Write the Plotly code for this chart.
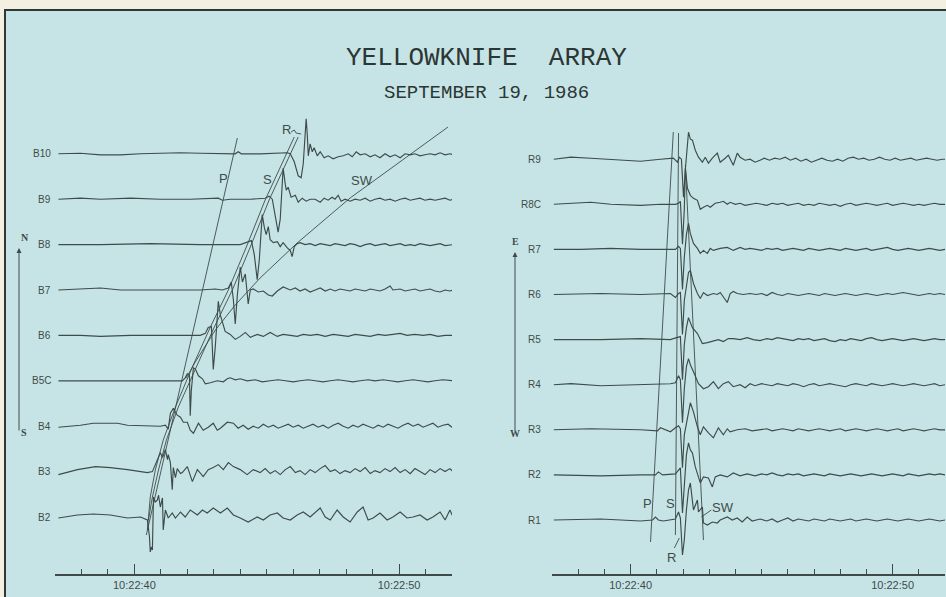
import plotly.graph_objects as go

# ---------------------------------------------------------------- data
LEFT_STATIONS = ["B2", "B3", "B4", "B5C", "B6", "B7", "B8", "B9", "B10"]
RIGHT_STATIONS = ["R1", "R2", "R3", "R4", "R5", "R6", "R7", "R8C", "R9"]
TICK_VALUES = [40, 50]
TICK_LABELS = ["10:22:40", "10:22:50"]
MINOR_TICKS = [38, 39, 41, 42, 43, 44, 45, 46, 47, 48, 49, 51, 52]

# time (s after 10:22:00) and trace deflection (up positive)
B10_T = [37.13, 37.96, 38.72, 39.47, 40.23, 40.98, 41.74, 42.49, 43.25, 43.81, 43.92, 44.04, 44.75, 45.51, 45.77, 45.89, 46.04, 46.19, 46.30, 46.38, 46.45, 46.49, 46.53, 46.57, 46.64, 46.72, 46.79, 46.91, 47.02, 47.17, 47.32, 47.51, 47.70, 47.89, 48.08, 48.23, 48.38, 48.53, 48.72, 48.91, 49.09, 49.28, 49.47, 49.66, 49.85, 50.04, 50.23, 50.42, 50.60, 50.79, 50.98, 51.17, 51.36, 51.55, 51.74, 51.92, 52.04]
B10_A = [0, 0.5, -1, -1, 0, 0.5, 1, 0.5, 0, 0, 2, 0, 0, 0.5, 1, 0, -8, -22, -24, -10, 20, 35, 20, -2, 10, 2, 6, -2, 2, -4, -2, -5, -3, -2, 0, -3, 2, -1, 0, -3, -1, -4, 0, -3, -1, -4, 0, -1, 0, -2, -1, 0, -1, 1, -1, 0, -1]

B9_T = [37.13, 37.96, 38.72, 39.85, 40.98, 42.11, 43.17, 43.32, 43.62, 44.38, 44.94, 45.09, 45.21, 45.32, 45.43, 45.51, 45.58, 45.62, 45.70, 45.74, 45.81, 45.92, 46.08, 46.19, 46.34, 46.49, 46.64, 46.83, 47.02, 47.17, 47.32, 47.47, 47.58, 47.70, 47.81, 47.96, 48.15, 48.34, 48.53, 48.72, 48.91, 49.09, 49.28, 49.47, 49.66, 49.85, 50.04, 50.23, 50.42, 50.60, 50.79, 50.98, 51.17, 51.36, 51.55, 51.74, 51.92, 52.04]
B9_A = [0, 1, 0, 1, 0, 0, 1, -1, 0, 0, 1, 3, 0, -15, -33, -20, 10, 31, 15, 9, 12, 2, 4, -3, 1, -2, 0, 0, -3, 1, -1, 2, 0, 4, -2, 0, -2, 0, -1, 1, -2, 0, 1, -1, 0, -2, 0, 1, -1, 0, 1, -1, 0, -1, 0, 1, -1, 0]

B8_T = [37.13, 38.72, 40.60, 42.49, 44.00, 44.26, 44.42, 44.53, 44.64, 44.72, 44.79, 44.83, 44.91, 44.98, 45.06, 45.13, 45.25, 45.40, 45.51, 45.62, 45.77, 45.89, 45.96, 46.04, 46.15, 46.26, 46.45, 46.64, 46.83, 47.02, 47.21, 47.40, 47.58, 47.77, 47.96, 48.15, 48.34, 48.53, 48.72, 48.91, 49.09, 49.28, 49.47, 49.66, 49.85, 50.04, 50.23, 50.42, 50.60, 50.79, 50.98, 51.17, 51.36, 51.55, 51.74, 51.92, 52.04]
B8_A = [0, 0, 1, 0, 0, 2, 4, -10, -35, -15, 15, 30, 17, 10, 18, 5, 2, 3, -2, 2, -3, -6, -12, -2, 1, 2, 0, 1, -1, 1, 0, -1, 1, 0, -1, 1, 0, -2, 0, 1, -1, 0, 1, -1, 0, 1, -1, 0, -1, 1, 0, -1, 0, 1, -1, 0, 0]

B7_T = [37.13, 37.96, 38.72, 39.47, 40.98, 42.49, 43.06, 43.32, 43.55, 43.66, 43.74, 43.81, 43.89, 43.96, 44.00, 44.08, 44.19, 44.30, 44.38, 44.49, 44.68, 44.87, 45.06, 45.21, 45.40, 45.62, 45.89, 46.08, 46.26, 46.45, 46.64, 46.83, 47.02, 47.21, 47.40, 47.58, 47.77, 47.96, 48.15, 48.34, 48.53, 48.72, 48.91, 49.09, 49.28, 49.47, 49.66, 49.77, 50.04, 50.23, 50.42, 50.60, 50.79, 50.98, 51.17, 51.36, 51.55, 51.74, 51.92, 52.04]
B7_A = [0, 1, 2, 0, 0, 0, 1, 0, 2, 8, -10, -34, -5, 15, 23, 8, 16, -14, 0, 1, -2, -1, -5, -6, -1, 3, 0, 2, -1, 1, -2, 0, 2, -1, 1, -1, 1, 0, -1, 1, 0, -1, 1, 0, -1, 1, 4, 0, 1, -1, 0, 1, -1, 0, 1, -1, -2, 0, -1, 0]

B6_T = [37.13, 37.96, 38.72, 39.85, 41.36, 42.49, 42.68, 42.79, 42.91, 42.98, 43.06, 43.17, 43.25, 43.32, 43.43, 43.62, 43.81, 44.00, 44.19, 44.38, 44.64, 44.87, 45.13, 45.40, 45.62, 45.89, 46.15, 46.38, 46.64, 46.91, 47.21, 47.51, 47.77, 48.08, 48.34, 48.64, 48.91, 49.21, 49.47, 49.77, 50.04, 50.30, 50.60, 50.91, 51.17, 51.47, 51.74, 52.04]
B6_A = [0, 0, -1, 0, 0, 0, 2, 8, 9, -34, -10, 34, 20, 13, 4, 1, -4, -1, 3, -2, 1, -1, 3, -1, 1, 0, -1, 1, 0, 1, -1, 1, 0, -1, 1, 0, -1, 1, 0, 1, 2, 0, 1, 0, 1, -1, 0, 0]

B5C_T = [37.13, 38.72, 40.23, 41.81, 41.92, 42.00, 42.08, 42.11, 42.15, 42.23, 42.30, 42.42, 42.57, 42.68, 42.87, 43.13, 43.36, 43.51, 43.62, 43.81, 44.00, 44.26, 44.57, 44.83, 45.13, 45.43, 45.70, 46.00, 46.26, 46.57, 46.83, 47.13, 47.40, 47.70, 47.96, 48.26, 48.53, 48.83, 49.09, 49.40, 49.66, 49.96, 50.23, 50.53, 50.79, 51.09, 51.36, 51.66, 52.04]
B5C_A = [0, 0, 0, 0, 3, 7, 6, -35, -10, 13, 12, 5, 2, -3, -2, 0, -1, 2, 3, 1, 2, 0, 1, -1, 0, 1, 0, -1, 0, 1, 0, -1, 0, 1, 0, -1, 0, 1, 0, 1, 0, -1, 0, 1, 0, -1, 0, 1, 0]

B4_T = [37.13, 37.96, 38.45, 39.36, 39.74, 40.98, 41.17, 41.28, 41.36, 41.47, 41.55, 41.62, 41.74, 41.85, 42.00, 42.11, 42.23, 42.42, 42.60, 42.79, 42.98, 43.13, 43.25, 43.51, 43.74, 43.92, 44.11, 44.30, 44.49, 44.68, 44.87, 45.06, 45.25, 45.43, 45.62, 45.81, 46.00, 46.19, 46.38, 46.57, 46.75, 46.94, 47.13, 47.32, 47.51, 47.70, 47.89, 48.08, 48.26, 48.45, 48.64, 48.83, 49.02, 49.21, 49.40, 49.58, 49.77, 49.96, 50.15, 50.34, 50.53, 50.72, 50.91, 51.09, 51.28, 51.47, 51.66, 51.85, 52.04]
B4_A = [-1, 1, 3, 3, 1, 0, 1, -3, 13, 18, 14, 11, 9, 4, 4, -4, -7, 3, -4, -1, 3, -4, -2, 4, 3, -2, 1, -3, 0, -2, 2, -1, 1, -2, 0, 2, -1, 1, -2, 0, 2, -1, 1, -2, 1, 3, 0, -2, 1, -1, 2, 0, -2, 1, -1, 2, 0, -2, 1, 3, 0, 2, -1, 1, 3, -1, 1, 2, -2]

B3_T = [37.13, 37.85, 38.53, 39.09, 39.74, 40.49, 40.68, 40.79, 40.87, 40.98, 41.06, 41.09, 41.17, 41.25, 41.28, 41.36, 41.43, 41.47, 41.55, 41.62, 41.74, 41.81, 42.00, 42.19, 42.38, 42.60, 42.79, 42.98, 43.17, 43.36, 43.55, 43.74, 44.00, 44.26, 44.49, 44.75, 44.94, 45.13, 45.32, 45.51, 45.70, 45.89, 46.08, 46.26, 46.45, 46.64, 46.83, 47.02, 47.21, 47.40, 47.58, 47.77, 47.96, 48.15, 48.34, 48.53, 48.72, 48.91, 49.09, 49.28, 49.47, 49.66, 49.85, 50.04, 50.23, 50.42, 50.60, 50.79, 50.98, 51.17, 51.36, 51.55, 51.74, 51.92, 52.04]
B3_A = [-3, 2, 5, 4, 2, -1, 0, 6, 12, 19, 14, 16, 22, 12, 17, 9, -18, 4, -6, 3, -2, -1, 5, -10, 2, -5, 2, 4, 7, 2, 9, 5, 2, -3, 2, -1, 3, -2, 1, -3, 2, 5, -1, 1, -3, 2, -1, 3, 6, 0, 2, -2, 1, -1, 3, 0, 4, -2, 1, -1, 3, 0, 4, -1, 2, -2, 3, 0, -3, 2, -1, 3, 0, 3, 0]

B2_T = [37.13, 37.85, 38.45, 39.09, 39.74, 40.23, 40.49, 40.57, 40.60, 40.64, 40.68, 40.72, 40.79, 40.87, 40.91, 40.98, 41.06, 41.09, 41.17, 41.28, 41.43, 41.55, 41.74, 41.92, 42.11, 42.38, 42.57, 42.75, 42.98, 43.25, 43.51, 43.74, 44.00, 44.30, 44.64, 44.87, 45.13, 45.40, 45.62, 45.89, 46.15, 46.38, 46.64, 47.02, 47.21, 47.40, 47.66, 47.89, 48.15, 48.42, 48.64, 48.83, 49.02, 49.28, 49.55, 49.77, 50.04, 50.30, 50.53, 50.79, 51.06, 51.28, 51.55, 51.74, 51.92, 52.04]
B2_A = [-1, 2, 3, 2, -1, 0, -3, -20, -35, -30, -33, 20, 15, 17, 22, 10, 19, -13, 7, -1, 4, -1, 5, 0, 7, 2, 7, 4, 9, 4, 9, 2, -1, -5, 0, -3, 2, 4, -1, -3, 2, 5, 0, 9, 0, -3, 7, 0, -5, 5, 10, -3, -1, 4, -3, 0, 5, -1, 0, 2, -3, 0, 5, -3, 7, 0]

R9_T = [37.07, 37.72, 38.48, 39.24, 40.38, 41.14, 41.63, 41.79, 41.86, 41.94, 42.02, 42.09, 42.17, 42.21, 42.28, 42.36, 42.47, 42.59, 42.74, 42.85, 42.97, 43.12, 43.31, 43.42, 43.61, 43.73, 43.92, 44.07, 44.18, 44.37, 44.56, 44.75, 44.94, 45.1, 45.3, 45.5, 45.7, 45.9, 46.1, 46.3, 46.5, 46.7, 46.9, 47.1, 47.3, 47.5, 47.7, 47.9, 48.1, 48.3, 48.5, 48.7, 48.9, 49.1, 49.3, 49.5, 49.7, 49.9, 50.1, 50.3, 50.5, 50.7, 50.9, 51.1, 51.3, 51.5, 51.7, 51.9, 52.0]
R9_A = [0, 2, 1, 0, -2, 0, 1, -3, 2, 0, -38, -10, 20, 27, 20, 19, 9, 2, -3, 2, -4, 1, 6, -3, 1, 4, -6, 6, 2, -1, 0, -3, -1, 1, -1, 1, 0, 2, -1, 1, -2, 0, -3, -1, 1, -1, -2, 0, -2, 1, 2, 0, 1, -1, 0, 2, 0, -1, 1, -1, 0, 1, -1, 0, 1, 0, -1, 0, 0]

R8C_T = [37.07, 37.72, 38.48, 39.24, 40.38, 41.14, 41.71, 41.83, 41.90, 41.98, 42.05, 42.09, 42.17, 42.28, 42.40, 42.55, 42.66, 42.78, 42.93, 43.04, 43.23, 43.42, 43.54, 43.69, 43.80, 44.00, 44.18, 44.37, 44.56, 44.8, 45.0, 45.2, 45.4, 45.6, 45.8, 46.0, 46.2, 46.4, 46.6, 46.8, 47.0, 47.2, 47.4, 47.6, 47.8, 48.0, 48.2, 48.4, 48.6, 48.8, 49.0, 49.2, 49.4, 49.6, 49.8, 50.0, 50.2, 50.4, 50.6, 50.8, 51.0, 51.2, 51.4, 51.6, 51.8, 52.0]
R8C_A = [0, 1, 2, 0, -1, 0, 0, 1, 3, -40, -5, 36, 16, 9, 6, 4, -5, -3, -1, -3, 1, 2, 3, 0, 2, 0, 1, -1, 0, 1, 0, -1, 1, 0, 1, -1, 0, 1, -1, 0, -1, 1, 0, -1, 0, -2, 0, 1, -1, 0, 1, 0, -1, 0, 1, -1, 0, 1, 0, -1, 0, -1, 0, 1, 0, 0]

R7_T = [37.07, 38.10, 39.24, 40.38, 41.33, 41.71, 41.83, 41.90, 41.98, 42.05, 42.13, 42.21, 42.28, 42.40, 42.55, 42.66, 42.78, 42.93, 43.04, 43.16, 43.42, 43.69, 43.92, 44.18, 44.37, 44.56, 44.8, 45.0, 45.2, 45.4, 45.6, 45.8, 46.0, 46.2, 46.4, 46.6, 46.8, 47.0, 47.2, 47.4, 47.6, 47.8, 48.0, 48.2, 48.4, 48.6, 48.8, 49.0, 49.2, 49.4, 49.6, 49.8, 50.0, 50.2, 50.4, 50.6, 50.8, 51.0, 51.2, 51.4, 51.6, 51.8, 52.0]
R7_A = [0, 0, 1, 0, 0, 0, 3, 1, -40, -8, 15, 26, 16, 6, 1, -4, -1, -4, 1, -1, 1, 2, -1, 2, 0, 1, 0, -1, 1, 0, 1, -1, 0, 1, 0, -1, 1, 0, -1, 0, 1, 0, -1, 1, 0, -1, 0, 1, -1, 0, 1, 2, 0, -1, 0, 1, 0, -1, 0, 1, 0, -1, 0]

R6_T = [37.07, 38.86, 40.38, 41.52, 41.71, 41.83, 41.90, 41.98, 42.05, 42.13, 42.21, 42.28, 42.40, 42.55, 42.66, 42.78, 42.93, 43.16, 43.31, 43.42, 43.69, 43.80, 43.92, 44.07, 44.30, 44.56, 44.8, 45.0, 45.2, 45.4, 45.6, 45.8, 46.0, 46.2, 46.4, 46.6, 46.8, 47.0, 47.2, 47.4, 47.6, 47.8, 48.0, 48.2, 48.4, 48.6, 48.8, 49.0, 49.2, 49.4, 49.6, 49.8, 50.0, 50.2, 50.4, 50.6, 50.8, 51.0, 51.2, 51.4, 51.6, 51.8, 52.0]
R6_A = [0, 1, 0, 1, -3, 1, 2, -40, -6, 10, 22, 24, 11, 1, -4, 2, -1, 1, 0, 2, -8, 1, 3, 1, 0, 1, 0, 1, -1, 2, 0, -1, 1, 0, -1, 0, 1, 0, -1, 1, 0, -1, 0, 1, 0, -1, 0, 1, 0, -1, 0, 1, 0, 1, 2, 1, 0, -1, 0, 1, 0, 1, 0]

R5_T = [37.07, 38.86, 40.38, 41.52, 41.63, 41.83, 41.90, 41.98, 42.05, 42.13, 42.21, 42.28, 42.36, 42.55, 42.74, 42.93, 43.16, 43.35, 43.54, 43.73, 43.92, 44.18, 44.45, 44.68, 44.94, 45.2, 45.4, 45.6, 45.8, 46.0, 46.2, 46.4, 46.6, 46.8, 47.0, 47.2, 47.4, 47.6, 47.8, 48.0, 48.2, 48.4, 48.6, 48.8, 49.0, 49.2, 49.4, 49.6, 49.8, 50.0, 50.2, 50.4, 50.6, 50.8, 51.0, 51.2, 51.4, 51.6, 51.8, 52.0]
R5_A = [0, 0, 1, 0, 1, 2, 3, -40, -5, 12, 22, 17, 12, 6, -4, -3, -1, 0, -2, 1, 1, 0, 2, 0, -1, 1, 0, 2, 1, 0, -1, 1, 0, 1, -1, 0, 1, -1, -2, 0, -1, 1, 0, -1, 1, 2, 0, -1, 0, 1, 0, -1, 0, 1, 0, -1, 0, 1, 0, 0]

R4_T = [37.07, 37.72, 38.86, 40.38, 41.52, 41.71, 41.83, 41.90, 41.98, 42.05, 42.13, 42.21, 42.28, 42.40, 42.59, 42.78, 42.97, 43.16, 43.35, 43.54, 43.73, 43.92, 44.18, 44.37, 44.56, 44.75, 45.0, 45.2, 45.4, 45.6, 45.8, 46.0, 46.2, 46.4, 46.6, 46.8, 47.0, 47.2, 47.4, 47.6, 47.8, 48.0, 48.2, 48.4, 48.6, 48.8, 49.0, 49.2, 49.4, 49.6, 49.8, 50.0, 50.2, 50.4, 50.6, 50.8, 51.0, 51.2, 51.4, 51.6, 51.8, 52.0]
R4_A = [0, 1, -1, 0, 1, 2, 9, 5, -38, -4, 18, 26, 20, 13, 1, -4, -2, 3, -4, 1, 3, -2, 0, -3, 1, -1, 1, 0, -1, 1, 0, -1, 1, 0, -2, 0, 1, -1, 0, 1, 0, -1, -2, 0, 1, 0, -1, 1, 0, -1, 0, 1, 0, -1, 0, 1, 0, -1, 0, 1, -1, 0]

R3_T = [37.07, 38.48, 40.38, 41.03, 41.14, 41.33, 41.52, 41.71, 41.83, 41.90, 41.98, 42.05, 42.17, 42.28, 42.40, 42.55, 42.66, 42.78, 42.97, 43.16, 43.35, 43.54, 43.69, 43.80, 44.07, 44.37, 44.64, 44.94, 45.2, 45.4, 45.6, 45.8, 46.0, 46.2, 46.4, 46.6, 46.8, 47.0, 47.2, 47.4, 47.6, 47.8, 48.0, 48.2, 48.4, 48.6, 48.8, 49.0, 49.2, 49.4, 49.6, 49.8, 50.0, 50.2, 50.4, 50.6, 50.8, 51.0, 51.2, 51.4, 51.6, 51.8, 52.0]
R3_A = [0, 1, 0, -1, 2, 0, -2, 2, 4, 1, -38, -5, 14, 27, 18, 3, -5, 3, -3, -8, 2, -5, 1, -2, 0, 1, -1, 0, 1, -1, 0, 1, 0, -1, 1, 0, -1, 0, 1, 0, -1, 0, 1, -1, 0, 1, 0, -1, 0, 1, 0, -1, 0, 1, -1, 0, 1, 0, -1, 0, 1, 0, 0]

R2_T = [37.07, 38.86, 40.38, 40.95, 41.06, 41.22, 41.71, 41.90, 41.98, 42.05, 42.13, 42.21, 42.28, 42.36, 42.47, 42.66, 42.78, 42.97, 43.12, 43.23, 43.42, 43.69, 43.92, 44.18, 44.45, 44.75, 45.0, 45.2, 45.4, 45.6, 45.8, 46.0, 46.2, 46.4, 46.6, 46.8, 47.0, 47.2, 47.4, 47.6, 47.8, 48.0, 48.2, 48.4, 48.6, 48.8, 49.0, 49.2, 49.4, 49.6, 49.8, 50.0, 50.2, 50.4, 50.6, 50.8, 51.0, 51.2, 51.4, 51.6, 51.8, 52.0]
R2_A = [0, -1, 0, 0, 3, 0, 1, 7, -38, -8, 20, 32, 25, 22, 8, -8, -2, -3, -12, -2, 0, -2, 2, -1, 1, -1, 1, 0, 2, 0, -1, 1, 0, 1, -1, 0, 1, 0, -1, 1, 0, -1, 0, 1, 0, -1, 0, 1, 0, -1, 0, 1, 0, -1, 1, 0, -1, 0, 1, 0, 1, 0]

R1_T = [37.07, 38.86, 40.38, 40.84, 40.95, 41.06, 41.25, 41.71, 41.83, 41.90, 41.98, 42.05, 42.13, 42.21, 42.28, 42.36, 42.40, 42.55, 42.59, 42.74, 42.78, 42.93, 43.12, 43.31, 43.42, 43.69, 43.88, 44.07, 44.26, 44.45, 44.64, 44.94, 45.2, 45.4, 45.6, 45.8, 46.0, 46.2, 46.4, 46.6, 46.8, 47.0, 47.2, 47.4, 47.6, 47.8, 48.0, 48.2, 48.4, 48.6, 48.8, 49.0, 49.2, 49.4, 49.6, 49.8, 50.0, 50.2, 50.4, 50.6, 50.8, 51.0, 51.2, 51.4, 51.6, 51.8, 52.0]
R1_A = [0, 1, -1, 0, 3, 0, -1, 1, 8, 2, -35, -20, 10, 30, 37, 18, 10, 20, 8, 13, -3, -5, -2, -3, 0, 3, 0, 2, -2, 3, -1, 1, -1, 1, -2, 0, 2, -1, 1, 0, -1, 1, 0, -1, 1, 0, -1, 0, 1, -1, 0, 1, 0, -1, 0, 1, 0, -1, 0, 1, 0, -1, 0, 1, 0, -1, 0]

# phase picks (time, height above lowest trace)
P_LEFT_T = [43.89, 40.45]
P_LEFT_Y = [379, -18]
S_LEFT_T = [46.04, 44.94, 44.23, 43.55, 42.87, 42.19, 41.55, 41.09, 40.79, 40.60, 40.49]
S_LEFT_Y = [380, 317, 270, 227, 190, 150, 110, 77, 47, 20, -13]
R_LEFT_T = [46.19, 45.09, 44.38, 43.70, 43.02, 42.34, 41.66, 41.21, 40.91, 40.68, 40.53]
R_LEFT_Y = [380, 317, 270, 227, 190, 150, 110, 77, 47, 20, -3]
SW_LEFT_T = [51.85, 50.04, 48.15, 46.15, 44.75, 43.81, 43.06, 42.30, 41.96]
SW_LEFT_Y = [390, 355, 319, 274, 239, 212, 187, 155, 139]
R_LEFT_LEADER_T = [45.92, 46.04, 46.11, 46.30]
R_LEFT_LEADER_Y = [385, 387, 384, 383]

P_RIGHT_T = [41.63, 40.76]
P_RIGHT_Y = [388, -22]
S_RIGHT_T = [41.83, 41.71]
S_RIGHT_Y = [387, -15]
SW_RIGHT_T = [42.09, 42.78]
SW_RIGHT_Y = [355, -20]
R_RIGHT_LEADER_T = [41.67, 41.86]
R_RIGHT_LEADER_Y = [-28, -18]
SW_RIGHT_LEADER_T = [42.70, 43.08]
SW_RIGHT_LEADER_Y = [3, 10]

LEFT_PICK_LABELS = [("P", 43.36, 339), ("S", 45.02, 338), ("SW", 48.60, 337), ("R", 45.74, 388)]
RIGHT_PICK_LABELS = [("P", 40.65, 17), ("S", 41.52, 17), ("SW", 43.54, 13), ("R", 41.56, -37)]

LEFT_TRACES = {"B2": (B2_T, B2_A), "B3": (B3_T, B3_A), "B4": (B4_T, B4_A), "B5C": (B5C_T, B5C_A),
               "B6": (B6_T, B6_A), "B7": (B7_T, B7_A), "B8": (B8_T, B8_A), "B9": (B9_T, B9_A),
               "B10": (B10_T, B10_A)}
RIGHT_TRACES = {"R1": (R1_T, R1_A), "R2": (R2_T, R2_A), "R3": (R3_T, R3_A), "R4": (R4_T, R4_A),
                "R5": (R5_T, R5_A), "R6": (R6_T, R6_A), "R7": (R7_T, R7_A), "R8C": (R8C_T, R8C_A),
                "R9": (R9_T, R9_A)}

for name, (t, a) in {**LEFT_TRACES, **RIGHT_TRACES}.items():
    if len(t) != len(a):
        raise ValueError(f"{name}: {len(t)} times vs {len(a)} values")

# ---------------------------------------------------------------- style
W, H = 946, 597
INK = "#3e4b49"
BG = "#c6e4e6"
CREAM = "#f3f0e2"
SP_L = 45.4
SP_R = 45.1
Y_DOM = [(H - 574) / H, (H - 110) / H]

fig = go.Figure()


def add_line(x, y, xa, ya, width=1.0):
    fig.add_trace(go.Scatter(x=x, y=y, mode="lines", xaxis=xa, yaxis=ya,
                             line=dict(color=INK, width=width), hoverinfo="skip",
                             showlegend=False))


for i, st in enumerate(LEFT_STATIONS):
    t, a = LEFT_TRACES[st]
    add_line(t, [i * SP_L + v for v in a], "x", "y", 1.15)
for i, st in enumerate(RIGHT_STATIONS):
    t, a = RIGHT_TRACES[st]
    add_line(t, [i * SP_R + v for v in a], "x2", "y2", 1.15)

for tx, ty in [(P_LEFT_T, P_LEFT_Y), (S_LEFT_T, S_LEFT_Y), (R_LEFT_T, R_LEFT_Y),
               (SW_LEFT_T, SW_LEFT_Y), (R_LEFT_LEADER_T, R_LEFT_LEADER_Y)]:
    add_line(tx, ty, "x", "y", 0.9)
for tx, ty in [(P_RIGHT_T, P_RIGHT_Y), (S_RIGHT_T, S_RIGHT_Y), (SW_RIGHT_T, SW_RIGHT_Y),
               (R_RIGHT_LEADER_T, R_RIGHT_LEADER_Y), (SW_RIGHT_LEADER_T, SW_RIGHT_LEADER_Y)]:
    add_line(tx, ty, "x2", "y2", 0.9)

xaxis_common = dict(range=[37, 52], showgrid=False, zeroline=False, showline=True,
                    linecolor=INK, linewidth=1.5, tickmode="array", tickvals=TICK_VALUES,
                    ticktext=TICK_LABELS, ticks="inside", ticklen=10, tickwidth=1,
                    tickcolor=INK, tickfont=dict(family="Liberation Sans, Arial", size=11, color=INK),
                    minor=dict(tickmode="array", tickvals=MINOR_TICKS, ticks="inside",
                               ticklen=5, tickwidth=1, tickcolor=INK, showgrid=False),
                    fixedrange=True)
yaxis_common = dict(visible=False, showgrid=False, zeroline=False, domain=Y_DOM, fixedrange=True)

fig.update_layout(
    width=W, height=H, margin=dict(l=0, r=0, t=0, b=0),
    paper_bgcolor=CREAM, plot_bgcolor="rgba(0,0,0,0)", showlegend=False, hovermode=False,
    xaxis=dict(domain=[55 / W, 452 / W], anchor="y", **xaxis_common),
    yaxis=dict(range=[-57, 407], anchor="x", **yaxis_common),
    xaxis2=dict(domain=[552 / W, 945 / W], anchor="y2", **xaxis_common),
    yaxis2=dict(range=[-54, 410], anchor="x2", **yaxis_common),
)

# card background with border
fig.add_shape(type="rect", xref="paper", yref="paper", x0=5 / W, x1=1.02, y0=-0.02,
              y1=(H - 10) / H, fillcolor=BG, line=dict(color="#2e3836", width=2), layer="below")

serif = "Liberation Serif, Times New Roman, serif"
mono = "Liberation Mono, Courier New, monospace"
sans = "Liberation Sans, Arial, sans-serif"

fig.add_annotation(xref="paper", yref="paper", x=486 / W, y=(H - 41) / H, showarrow=False,
                   text="YELLOWKNIFE\u00a0\u00a0ARRAY", font=dict(family=mono, size=26, color="#2c3634"))
fig.add_annotation(xref="paper", yref="paper", x=486 / W, y=(H - 80) / H, showarrow=False,
                   text="SEPTEMBER 19, 1986", font=dict(family=mono, size=19, color="#2c3634"))

for i, st in enumerate(LEFT_STATIONS):
    fig.add_annotation(xref="x", yref="y", x=37, y=i * SP_L, text=st, showarrow=False,
                       xanchor="right", xshift=-2, font=dict(family=sans, size=10, color=INK))
for i, st in enumerate(RIGHT_STATIONS):
    fig.add_annotation(xref="x2", yref="y2", x=37, y=i * SP_R, text=st, showarrow=False,
                       xanchor="right", xshift=-9, font=dict(family=sans, size=10, color=INK))

for txt, tx, ty in LEFT_PICK_LABELS:
    fig.add_annotation(xref="x", yref="y", x=tx, y=ty, text=txt, showarrow=False,
                       font=dict(family=sans, size=13, color=INK))
for txt, tx, ty in RIGHT_PICK_LABELS:
    fig.add_annotation(xref="x2", yref="y2", x=tx, y=ty, text=txt, showarrow=False,
                       font=dict(family=sans, size=13, color=INK))

# direction arrows
for px, top, bottom, up, down in [(19, 248, 432, "N", "S"), (515, 252, 433, "E", "W")]:
    fig.add_annotation(xref="paper", yref="paper", x=px / W, y=(H - top) / H, ax=0,
                       ay=bottom - top, text="", showarrow=True, arrowhead=2, arrowsize=1,
                       arrowwidth=1, arrowcolor=INK)
    fig.add_annotation(xref="paper", yref="paper", x=px / W, y=(H - top + 11) / H, text=f"<b>{up}</b>",
                       showarrow=False, font=dict(family=serif, size=10, color=INK))
    fig.add_annotation(xref="paper", yref="paper", x=px / W, y=(H - bottom - 8) / H,
                       text=f"<b>{down}</b>", showarrow=False, font=dict(family=serif, size=10, color=INK))

fig.write_html("out.html", config={"displayModeBar": False},
               post_script="document.body.style.margin='0';document.body.style.overflow='hidden';")
